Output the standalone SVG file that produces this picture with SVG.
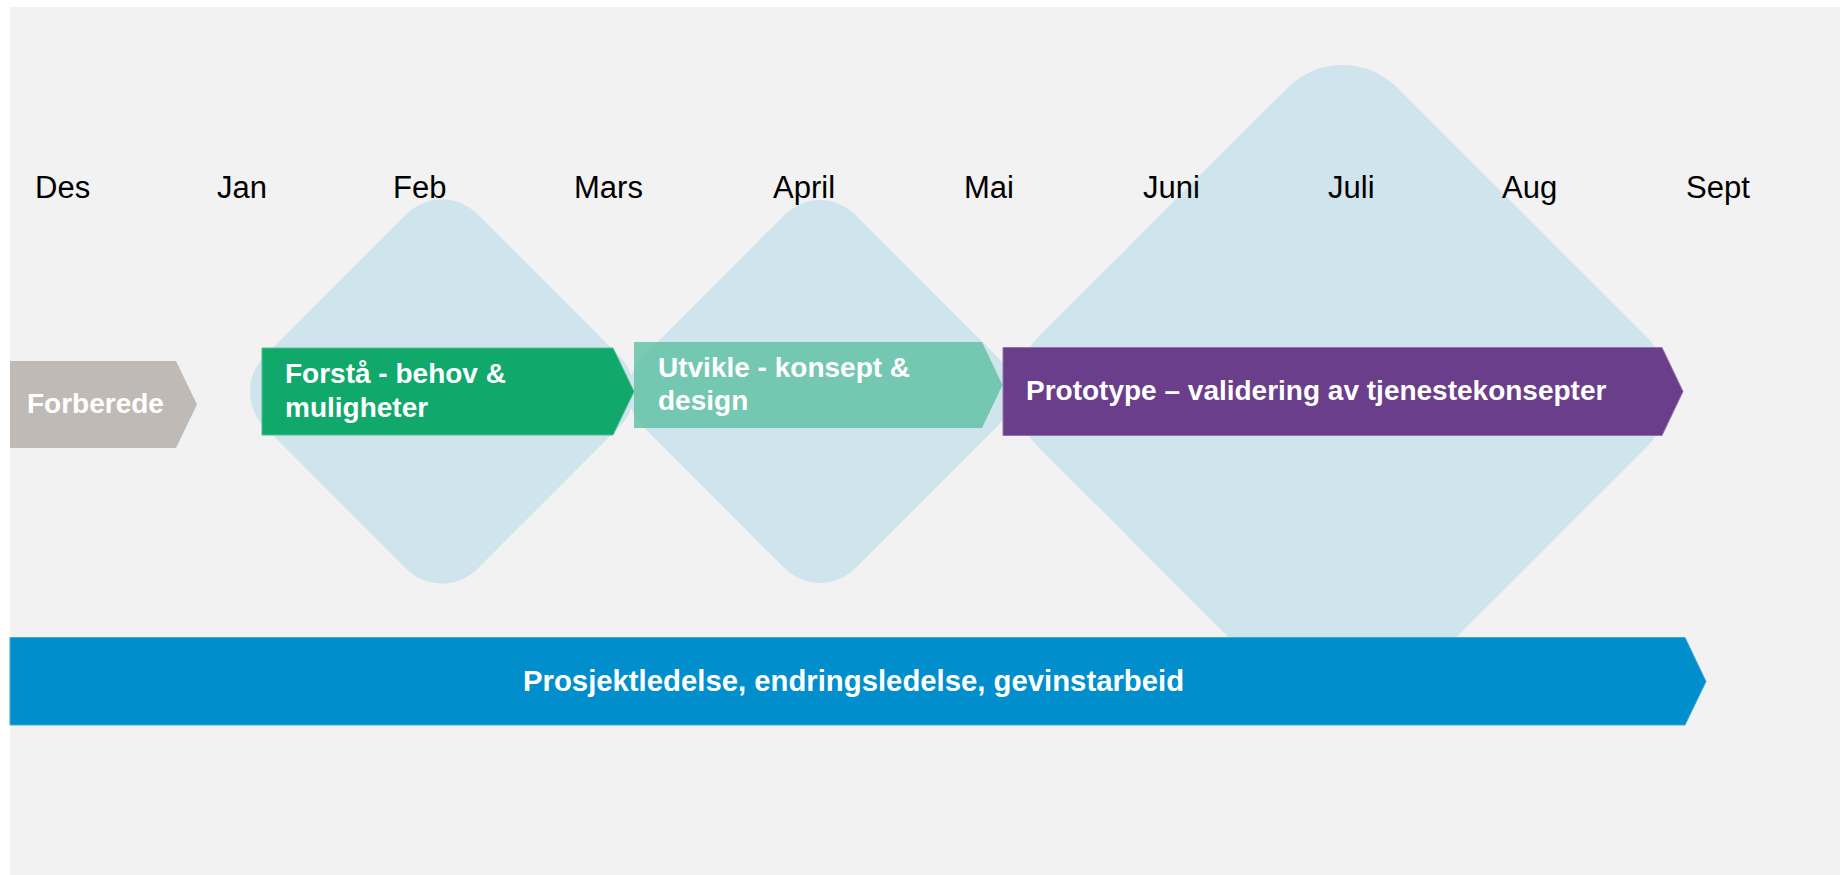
<svg xmlns="http://www.w3.org/2000/svg" width="1840" height="875" viewBox="0 0 1840 875">
  <style>
    .month { font-family: "Liberation Sans", Arial, sans-serif; font-size: 31px; fill: #000000; }
    .lbl { font-family: "Liberation Sans", Arial, sans-serif; font-size: 28px; font-weight: bold; fill: #FFFFFF; }
    .dia { fill: #D0E4ED; }
  </style>
  <rect x="0" y="0" width="1840" height="875" fill="#FFFFFF"/>
  <rect id="background" x="10" y="7" width="1830" height="868" fill="#F2F2F2"/>

  <g id="phases-bg">
    <rect id="diamond-feb" class="dia" x="-150.5" y="-150.5" width="301" height="301" rx="50" transform="translate(442 391.5) rotate(45)"/>
    <rect id="diamond-april" class="dia" x="-150" y="-150" width="300" height="300" rx="50" transform="translate(820 391.5) rotate(45)"/>
    <rect id="diamond-juli" class="dia" x="-254" y="-254" width="508" height="508" rx="78" transform="translate(1342.5 392) rotate(45)"/>
  </g>

  <g id="months">
    <text class="month" x="35" y="198">Des</text>
    <text class="month" x="217" y="198">Jan</text>
    <text class="month" x="393" y="198">Feb</text>
    <text class="month" x="574" y="198">Mars</text>
    <text class="month" x="773" y="198">April</text>
    <text class="month" x="964" y="198">Mai</text>
    <text class="month" x="1143" y="198">Juni</text>
    <text class="month" x="1328" y="198">Juli</text>
    <text class="month" x="1502" y="198">Aug</text>
    <text class="month" x="1686" y="198">Sept</text>
  </g>

  <g id="connectors"></g>

  <g id="forberede">
    <path d="M10 361 L176 361 L197 404.5 L176 448 L10 448 Z" fill="#BFBAB6"/>
    <text class="lbl" x="27" y="413">Forberede</text>
  </g>

  <g id="forsta">
    <path d="M262 348 L613 348 L634 391.5 L613 435 L262 435 Z" fill="#10A96B" stroke="#4DBE8E" stroke-width="1"/>
    <text class="lbl" x="285" y="383">Forstå - behov &amp;</text>
    <text class="lbl" x="285" y="417">muligheter</text>
  </g>

  <g id="utvikle">
    <path d="M634 342 L982 342 L1002.5 385 L982 428 L634 428 Z" fill="#5DC0A2" fill-opacity="0.8"/>
    <text class="lbl" x="658" y="377">Utvikle - konsept &amp;</text>
    <text class="lbl" x="658" y="410">design</text>
  </g>

  <g id="prototype">
    <path d="M1003 347.5 L1662 347.5 L1683 391.5 L1662 435.5 L1003 435.5 Z" fill="#6B3E8B" stroke="#9274AE" stroke-width="1"/>
    <text class="lbl" x="1026" y="400">Prototype – validering av tjenestekonsepter</text>
  </g>

  <g id="prosjektledelse">
    <path d="M10 637.5 L1685 637.5 L1706 681.5 L1685 725 L10 725 Z" fill="#008FCC" stroke="#3AA9DB" stroke-width="1"/>
    <text class="lbl" x="523" y="691" style="font-size:29.3px">Prosjektledelse, endringsledelse, gevinstarbeid</text>
  </g>
</svg>
